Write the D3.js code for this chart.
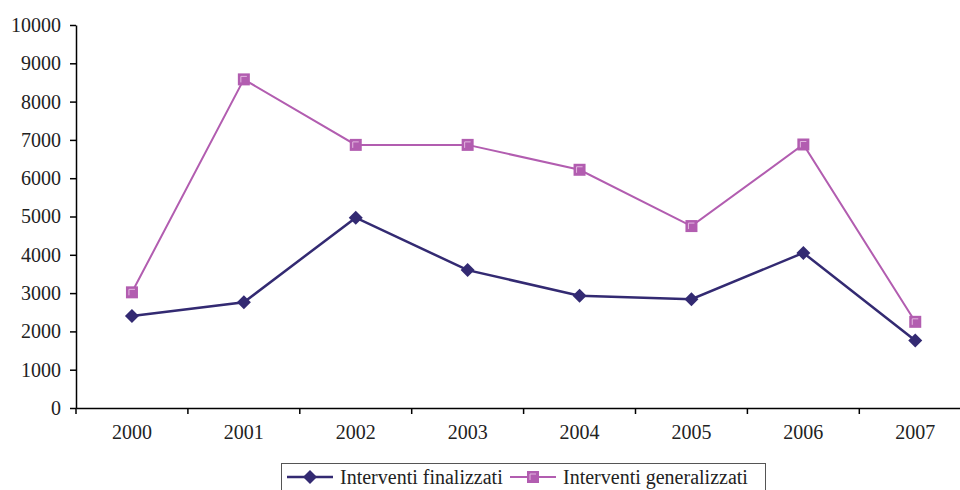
<!DOCTYPE html>
<html>
<head>
<meta charset="utf-8">
<script src="https://cdn.jsdelivr.net/npm/d3@7"></script>
<style>
  body { margin: 0; background: #fff; }
  svg { display: block; }
</style>
</head>
<body>
<div id="chart"></div>
<script>
// data
const years = ["2000", "2001", "2002", "2003", "2004", "2005", "2006", "2007"];
const finalizzati = [2400, 2760, 4970, 3600, 2930, 2840, 4050, 1760];
const generalizzati = [3020, 8580, 6870, 6870, 6220, 4750, 6880, 2250];
const yTicks = [0, 1000, 2000, 3000, 4000, 5000, 6000, 7000, 8000, 9000, 10000];
const seriesNames = ["Interventi finalizzati", "Interventi generalizzati"];

const width = 960;
const height = 490;
const marginLeft = 76;
const marginTop = 25;
const plotBottom = 408;
const colFin = "#332a72";
const colGen = "#b25db0";
const font = "'Liberation Serif'";
const fontSize = 20;

const svg = d3.select("#chart").append("svg")
  .attr("width", width)
  .attr("height", height);

const x = d3.scaleBand().domain(years).range([marginLeft, marginLeft + 8 * 111.9]).padding(0);
const y = d3.scaleLinear().domain([0, 10000]).range([plotBottom, marginTop]);

// y axis
svg.append("g")
  .attr("transform", `translate(${marginLeft},0)`)
  .call(d3.axisLeft(y).tickValues(yTicks).tickFormat(d3.format("d")).tickSize(6).tickPadding(9).tickSizeOuter(0))
  .call(g => g.select(".domain").attr("stroke", "#000").attr("stroke-width", 1.5))
  .call(g => g.selectAll(".tick line").attr("stroke", "#000").attr("stroke-width", 1.5))
  .call(g => g.selectAll(".tick text").attr("fill", "#222")
    .style("font-size", fontSize + "px").style("font-family", font));

// x axis: labels at band centres, ticks at band edges
const xg = svg.append("g")
  .attr("transform", `translate(0,${plotBottom})`)
  .call(d3.axisBottom(x).tickSize(0).tickPadding(17).tickSizeOuter(0))
  .call(g => g.select(".domain").attr("stroke", "#000").attr("stroke-width", 1.5))
  .call(g => g.selectAll(".tick text").attr("fill", "#222")
    .style("font-size", fontSize + "px").style("font-family", font));

xg.selectAll(".edge")
  .data(years)
  .join("line")
  .attr("class", "edge")
  .attr("x1", d => x(d)).attr("x2", d => x(d))
  .attr("y1", 0).attr("y2", 6)
  .attr("stroke", "#000").attr("stroke-width", 1.5);

const line = d3.line()
  .x((d, i) => x(years[i]) + x.bandwidth() / 2)
  .y(d => y(d));

// generalizzati
svg.append("path")
  .attr("fill", "none")
  .attr("stroke", colGen)
  .attr("stroke-width", 2)
  .attr("d", line(generalizzati));

// finalizzati
svg.append("path")
  .attr("fill", "none")
  .attr("stroke", colFin)
  .attr("stroke-width", 2.5)
  .attr("d", line(finalizzati));

function square(g, cx, cy) {
  g.append("rect")
    .attr("x", cx - 6).attr("y", cy - 6)
    .attr("width", 12).attr("height", 12)
    .attr("fill", colGen);
  g.append("path")
    .attr("d", `M${cx - 3},${cy + 3}V${cy - 3}H${cx + 3}`)
    .attr("fill", "none")
    .attr("stroke", "#e3b8e0")
    .attr("stroke-width", 1);
}

function diamond(g, cx, cy) {
  g.append("path")
    .attr("d", `M${cx},${cy - 7}L${cx + 7},${cy}L${cx},${cy + 7}L${cx - 7},${cy}Z`)
    .attr("fill", colFin);
}

const markers = svg.append("g");
generalizzati.forEach((v, i) => square(markers, x(years[i]) + x.bandwidth() / 2, y(v)));
finalizzati.forEach((v, i) => diamond(markers, x(years[i]) + x.bandwidth() / 2, y(v)));

// legend
const legend = svg.append("g");
legend.append("rect")
  .attr("x", 281.5).attr("y", 463.5)
  .attr("width", 484).attr("height", 40)
  .attr("fill", "#fff")
  .attr("stroke", "#555")
  .attr("stroke-width", 1);

const legendItems = [
  { name: seriesNames[0], x: 287, color: colFin, mark: diamond, w: 2.5 },
  { name: seriesNames[1], x: 510, color: colGen, mark: square, w: 2 }
];
legendItems.forEach(it => {
  legend.append("line")
    .attr("x1", it.x).attr("x2", it.x + 46)
    .attr("y1", 477).attr("y2", 477)
    .attr("stroke", it.color).attr("stroke-width", it.w);
  it.mark(legend, it.x + 23, 477);
  legend.append("text")
    .attr("x", it.x + 53).attr("y", 484)
    .attr("fill", "#222")
    .style("font-size", fontSize + "px").style("font-family", font)
    .text(it.name);
});
</script>
</body>
</html>
